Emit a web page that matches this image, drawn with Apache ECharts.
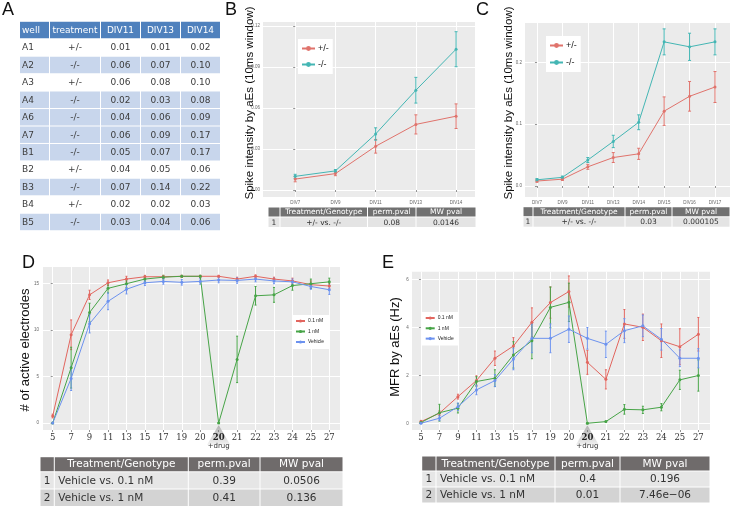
<!DOCTYPE html>
<html><head><meta charset="utf-8">
<script src="https://cdn.jsdelivr.net/npm/echarts@6/dist/echarts.min.js"></script>
<style>html,body{margin:0;padding:0;background:#fff}#c{width:732px;height:510px}</style>
</head><body><div id="c"></div>
<script>
// ---------- Panel A table ----------
const aHeader = ['well','treatment','DIV11','DIV13','DIV14'];
const aWells = ['A1','A2','A3','A4','A6','A7','B1','B2','B3','B4','B5'];
const aTreat = ['+/-','-/-','+/-','-/-','-/-','-/-','-/-','+/-','-/-','+/-','-/-'];
const aDiv11 = ['0.01','0.06','0.06','0.02','0.04','0.06','0.05','0.04','0.07','0.02','0.03'];
const aDiv13 = ['0.01','0.07','0.08','0.03','0.06','0.09','0.07','0.05','0.14','0.02','0.04'];
const aDiv14 = ['0.02','0.10','0.10','0.08','0.09','0.17','0.17','0.06','0.22','0.03','0.06'];

// ---------- Panel B ----------
const bLabels = ['DIV7','DIV9','DIV11','DIV13','DIV14'];
const bHet = [0.008, 0.012, 0.032, 0.048, 0.054];
const bHetErr = [0.002, 0.0015, 0.005, 0.007, 0.009];
const bKO = [0.010, 0.014, 0.041, 0.073, 0.103];
const bKOErr = [0.0015, 0.001, 0.0045, 0.0094, 0.0128];
const bYTicks = [0, 0.03, 0.06, 0.09, 0.12];

// ---------- Panel C ----------
const cLabels = ['DIV7','DIV9','DIV11','DIV13','DIV14','DIV15','DIV16','DIV17'];
const cHet = [0.008, 0.011, 0.031, 0.046, 0.052, 0.121, 0.145, 0.160];
const cHetErr = [0.002, 0.002, 0.004, 0.008, 0.009, 0.023, 0.024, 0.025];
const cKO = [0.010, 0.014, 0.042, 0.072, 0.103, 0.233, 0.225, 0.233];
const cKOErr = [0.002, 0.002, 0.004, 0.010, 0.012, 0.021, 0.022, 0.021];
const cYTicks = [0, 0.1, 0.2];

// ---------- Panel D ----------
const dLabels = ['5','7','9','11','13','15','17','19','20','20','21','22','23','24','25','27'];
const dLow = [0.75, 9.5, 13.8, 15.1, 15.5, 15.75, 15.75, 15.8, 15.8, 15.8, 15.5, 15.8, 15.5, 15.3, 14.9, 14.75];
const dLowErr = [0.2, 1.6, 0.5, 0.3, 0.3, 0.15, 0.15, 0.1, 0.1, 0.1, 0.2, 0.15, 0.2, 0.3, 0.4, 0.3];
const dHigh = [0, 5.96, 11.9, 14.5, 15.0, 15.5, 15.7, 15.8, 15.8, 0, 6.85, 13.7, 13.8, 14.8, 15.0, 15.2];
const dHighErr = [0, 2.2, 1.0, 0.5, 0.4, 0.3, 0.2, 0.1, 0.1, 0, 2.5, 1.0, 0.8, 0.5, 0.5, 0.4];
const dVeh = [0, 4.8, 10.7, 13.1, 14.4, 15.1, 15.25, 15.15, 15.25, 15.4, 15.35, 15.5, 15.3, 15.2, 14.7, 14.35];
const dVehErr = [0, 1.3, 1.0, 0.9, 0.5, 0.3, 0.3, 0.3, 0.3, 0.3, 0.3, 0.3, 0.3, 0.3, 0.3, 0.5];
const dYTicks = [0, 5, 10, 15];

// ---------- Panel E ----------
const eLabels = dLabels;
const eLow = [0.07, 0.42, 1.11, 1.78, 2.71, 3.22, 4.21, 5.03, 5.49, 2.54, 1.83, 4.14, 4.0, 3.44, 3.19, 3.71];
const eLowErr = [0.05, 0.1, 0.1, 0.2, 0.3, 0.35, 0.6, 0.65, 0.65, 0.5, 0.4, 0.6, 0.55, 0.7, 0.75, 0.7];
const eHigh = [0.03, 0.44, 0.63, 1.74, 1.88, 2.85, 3.44, 4.83, 5.04, 0, 0.07, 0.58, 0.56, 0.67, 1.81, 1.99];
const eHighErr = [0.02, 0.35, 0.2, 0.2, 0.35, 0.55, 0.75, 0.85, 0.8, 0.03, 0.02, 0.2, 0.15, 0.15, 0.4, 0.65];
const eVeh = [0, 0.21, 0.69, 1.39, 1.78, 2.68, 3.54, 3.54, 3.92, 3.54, 3.29, 3.86, 4.06, 3.5, 2.71, 2.71];
const eVehErr = [0.02, 0.1, 0.15, 0.2, 0.25, 0.45, 0.6, 0.6, 0.55, 0.45, 0.55, 0.5, 0.45, 0.45, 0.35, 0.4];
const eYTicks = [0, 2, 4, 6];

// ---------- stats tables ----------
const statHeader = ['', 'Treatment/Genotype', 'perm.pval', 'MW pval'];
const bStats = [['1', '+/- vs. -/-', '0.08', '0.0146']];
const cStats = [['1', '+/- vs. -/-', '0.03', '0.000105']];
const dStats = [['1', 'Vehicle vs. 0.1 nM', '0.39', '0.0506'], ['2', 'Vehicle vs. 1 nM', '0.41', '0.136']];
const eStats = [['1', 'Vehicle vs. 0.1 nM', '0.4', '0.196'], ['2', 'Vehicle vs. 1 nM', '0.01', '7.46e\u221206']];

const HET = '+/-', KO = '-/-';
const N01 = '0.1 nM', N1 = '1 nM', VEH = 'Vehicle';

// colours
const cRed2 = '#e0736c', cCyan = '#44b6b4';
const cRed = '#e2665f', cGreen = '#47a447', cBlue = '#6c92ef';
const BG = '#ebebeb';

// ---------- graphic helpers ----------
const G = []; let gid = 0;
function add(el) { el.id = 'g' + (gid++); el.silent = true; G.push(el); return el; }
function txt(x, y, t, o) {
  o = o || {};
  add({type: 'text', x, y, rotation: o.rot || 0, z: o.z == null ? 1 : o.z,
    style: {text: t, fill: o.color || '#222', fontSize: o.size || 9, fontFamily: o.font || 'DejaVu Sans',
      fontWeight: o.weight || 'normal', align: o.align || 'left', verticalAlign: o.va || 'middle'}});
}
function table(cols, rows, fills, cellRows, o) {
  for (let r = 0; r < cellRows.length; r++) {
    for (let c = 0; c < cols.length - 1; c++) {
      const x0 = cols[c], x1 = cols[c + 1], y0 = rows[r], y1 = rows[r + 1];
      const fill = fills[r];
      add({type: 'rect', z: 0, shape: {x: x0 + 0.5, y: y0 + 0.5, width: x1 - x0 - 1, height: y1 - y0 - 1}, style: {fill}});
      const t = cellRows[r][c];
      if (!t) continue;
      const al = (r === 0 ? o.headAligns : o.aligns)[c];
      const tx = al === 'left' ? x0 + o.pad : al === 'right' ? x1 - o.pad : (x0 + x1) / 2;
      txt(tx, (y0 + y1) / 2 + 0.5, t, {color: r === 0 ? o.headColor : o.color, size: o.size, font: o.font, align: al});
    }
  }
}

// Panel letters
txt(2, 10, 'A', {size: 18, font: 'Liberation Sans', color: '#111'});
txt(225, 10, 'B', {size: 18, font: 'Liberation Sans', color: '#111'});
txt(476, 10, 'C', {size: 18, font: 'Liberation Sans', color: '#111'});
txt(22, 263, 'D', {size: 18, font: 'Liberation Sans', color: '#111'});
txt(382, 263, 'E', {size: 18, font: 'Liberation Sans', color: '#111'});

// y-axis titles
const rot = Math.PI / 2;
txt(250, 103, 'Spike intensity by aEs (10ms window)', {rot, size: 11.5, font: 'Liberation Sans', align: 'center', color: '#111'});
txt(509, 103, 'Spike intensity by aEs (10ms window)', {rot, size: 11.5, font: 'Liberation Sans', align: 'center', color: '#111'});
txt(25, 350, '# of active electrodes', {rot, size: 13, font: 'Liberation Sans', align: 'center', color: '#111'});
txt(395, 347, 'MFR by aEs (Hz)', {rot, size: 13, font: 'Liberation Sans', align: 'center', color: '#111'});

// Table A
(function () {
  const rows = []; for (let k = 0; k <= aWells.length + 1; k++) rows.push(21.3 + 17.45 * k);
  const cells = [aHeader].concat(aWells.map((w, i) => [w, aTreat[i], aDiv11[i], aDiv13[i], aDiv14[i]]));
  const fills = ['#4f81bd'].concat(aTreat.map(t => t === '-/-' ? '#c8d6ec' : '#ffffff'));
  table([19.5, 49.5, 100.5, 140.5, 180.5, 220.5], rows, fills, cells,
    {aligns: ['left', 'center', 'center', 'center', 'center'], headAligns: ['left', 'center', 'center', 'center', 'center'],
     pad: 2.5, size: 9, font: 'DejaVu Sans', color: '#3c3c3c', headColor: '#ffffff'});
})();
const statOpt = (size) => ({aligns: ['center', 'center', 'center', 'center'], headAligns: ['center', 'center', 'center', 'center'],
  pad: 4, size, font: 'DejaVu Sans', color: '#333', headColor: '#ffffff'});
table([268, 280, 367.5, 416, 476], [207, 217, 227.5], ['#717171', '#e4e4e4'], [statHeader].concat(bStats), statOpt(7.5));
table([523, 533, 625, 672, 730], [206.7, 216.7, 227.2], ['#717171', '#e4e4e4'], [statHeader].concat(cStats), statOpt(7.5));
const statOpt2 = Object.assign(statOpt(10.5), {aligns: ['center', 'left', 'center', 'center']});
table([40, 54.3, 188.3, 260, 343], [456.7, 471.7, 489, 506.5], ['#6f6b6b', '#e6e6e6', '#d3d3d3'], [statHeader].concat(dStats), statOpt2);
table([421.7, 436, 555, 620, 710], [456, 471, 487, 503], ['#6f6b6b', '#e6e6e6', '#d3d3d3'], [statHeader].concat(eStats), statOpt2);

// ---------- axes helpers ----------
const near = (v, step) => Math.abs(v / step - Math.round(v / step)) < 1e-6;
const idxs = n => Array.from({length: n}, (_, i) => i);
function yAx(grid, min, max, step, ticks, dec) {
  return {gridIndex: grid, type: 'value', min, max, minInterval: step, maxInterval: step,
    axisLine: {show: false},
    axisTick: {show: true, length: 2, lineStyle: {color: '#777', width: 0.8}, customValues: ticks},
    axisLabel: {fontSize: 4.5, color: '#666', margin: 3, fontFamily: 'Liberation Sans',
      formatter: v => near(v, step) ? v.toFixed(dec) : ''},
    splitLine: {show: true, lineStyle: {color: '#ffffff', width: 1}}};
}
function xAxSmall(grid, min, max, labels) {
  return {gridIndex: grid, type: 'value', min, max, minInterval: 1, maxInterval: 1,
    axisLine: {show: false},
    axisTick: {show: true, length: 2, lineStyle: {color: '#777', width: 0.8}, customValues: idxs(labels.length)},
    axisLabel: {fontSize: 4.5, color: '#666', margin: 3, fontFamily: 'Liberation Sans',
      formatter: v => (near(v, 1) && v >= 0 && v < labels.length) ? labels[Math.round(v)] : ''},
    splitLine: {show: true, lineStyle: {color: '#ffffff', width: 1}}};
}
function xAxGrid(grid, min, max) {
  return {gridIndex: grid, type: 'value', min, max, minInterval: 1, maxInterval: 1,
    axisLine: {show: false}, axisTick: {show: false}, axisLabel: {show: false},
    splitLine: {show: true, lineStyle: {color: '#ffffff', width: 1}}};
}
function xAxLabels(grid, min, max, labels) {
  return {gridIndex: grid, type: 'value', min, max, minInterval: 1, maxInterval: 1, position: 'bottom', z: 5,
    axisLine: {show: false}, splitLine: {show: false},
    axisTick: {show: true, length: 2, lineStyle: {color: '#777', width: 0.8}, customValues: idxs(labels.length)},
    axisLabel: {fontSize: 8.5, color: '#333', margin: 3, fontFamily: 'DejaVu Serif',
      formatter: v => {
        if (!near(v, 1) || v < 0 || v >= labels.length) return '';
        const i = Math.round(v);
        return i === 9 ? '{b|' + labels[i] + '}\n{d|+drug}' : labels[i];
      },
      rich: {b: {fontSize: 8.5, fontWeight: 'bold', fontFamily: 'DejaVu Serif', color: '#222'},
             d: {fontSize: 7, fontFamily: 'DejaVu Sans', color: '#333', padding: [1, 0, 0, 0]}}}};
}

function lineS(name, xi, yi, vals, color) {
  return {type: 'line', name, xAxisIndex: xi, yAxisIndex: yi, data: vals.map((v, i) => [i, v]),
    symbol: 'circle', symbolSize: 3, showSymbol: true, clip: false, z: 3, silent: true,
    lineStyle: {color, width: 1}, itemStyle: {color}};
}
function errS(name, xi, yi, vals, errs, color, cap) {
  return {type: 'custom', name: name + ' err', xAxisIndex: xi, yAxisIndex: yi, clip: false, z: 3, silent: true,
    dimensions: ['x', 'lo', 'hi'], encode: {x: 0, y: [1, 2]},
    data: vals.map((v, i) => [i, v - errs[i], v + errs[i]]),
    renderItem: (params, api) => {
      const lo = api.coord([api.value(0), api.value(1)]);
      const hi = api.coord([api.value(0), api.value(2)]);
      const st = {stroke: color, lineWidth: 1};
      return {type: 'group', children: [
        {type: 'line', shape: {x1: lo[0], y1: lo[1], x2: hi[0], y2: hi[1]}, style: st},
        {type: 'line', shape: {x1: lo[0] - cap, y1: lo[1], x2: lo[0] + cap, y2: lo[1]}, style: st},
        {type: 'line', shape: {x1: hi[0] - cap, y1: hi[1], x2: hi[0] + cap, y2: hi[1]}, style: st}]};
    }};
}
function legend(left, top, names, o) {
  return {left, top, orient: 'vertical', data: names, selectedMode: false, backgroundColor: '#ffffff',
    itemWidth: o.iw, itemHeight: o.ih, itemGap: o.gap, padding: o.pad, borderWidth: 0,
    textStyle: {fontSize: o.fs, color: '#222', fontFamily: 'Liberation Sans', padding: [0, 0, 0, -2]}};
}

const gridBase = {show: true, backgroundColor: BG, borderWidth: 0, containLabel: false, outerBoundsMode: 'none'};
const option = {
  animation: false,
  backgroundColor: '#ffffff',
  grid: [
    Object.assign({left: 263, top: 22, width: 212, height: 175}, gridBase),
    Object.assign({left: 525, top: 23, width: 205, height: 174}, gridBase),
    Object.assign({left: 42, top: 267, width: 298, height: 163}, gridBase),
    Object.assign({left: 411.7, top: 271.7, width: 298.3, height: 158.3}, gridBase)
  ],
  xAxis: [
    xAxSmall(0, -0.8, 4.47, bLabels),
    xAxSmall(1, -0.47, 7.59, cLabels),
    xAxGrid(2, -0.58, 15.58),
    xAxLabels(2, -0.58, 15.58, dLabels),
    xAxGrid(3, -0.5, 15.63),
    xAxLabels(3, -0.5, 15.63, eLabels)
  ],
  yAxis: [
    yAx(0, -0.0051, 0.1229, 0.03, bYTicks, 2),
    yAx(1, -0.0178, 0.2635, 0.1, cYTicks, 1),
    yAx(2, -0.754, 16.8, 5, dYTicks, 0),
    yAx(3, -0.28, 6.317, 2, eYTicks, 0)
  ],
  legend: [
    legend(298, 39, [HET, KO], {iw: 13, ih: 6, gap: 7, pad: [5, 4, 5, 3], fs: 9}),
    legend(546, 36, [HET, KO], {iw: 13, ih: 6, gap: 8, pad: [5, 4, 5, 3], fs: 9}),
    legend(292, 315, [N01, N1, VEH], {iw: 9, ih: 4, gap: 5.5, pad: [3.5, 5, 4.5, 3], fs: 5}),
    legend(421.7, 312, [N01, N1, VEH], {iw: 9, ih: 4, gap: 5.3, pad: [3.5, 5, 4.5, 3], fs: 5})
  ],
  graphic: {elements: G},
  series: [
    lineS(HET, 0, 0, bHet, cRed2), errS(HET, 0, 0, bHet, bHetErr, cRed2, 1.5),
    lineS(KO, 0, 0, bKO, cCyan), errS(KO, 0, 0, bKO, bKOErr, cCyan, 1.5),
    lineS(HET + ' ', 1, 1, cHet, cRed2), errS(HET, 1, 1, cHet, cHetErr, cRed2, 1.5),
    lineS(KO + ' ', 1, 1, cKO, cCyan), errS(KO, 1, 1, cKO, cKOErr, cCyan, 1.5),
    lineS(N01, 2, 2, dLow, cRed), errS(N01, 2, 2, dLow, dLowErr, cRed, 1),
    lineS(N1, 2, 2, dHigh, cGreen), errS(N1, 2, 2, dHigh, dHighErr, cGreen, 1),
    lineS(VEH, 2, 2, dVeh, cBlue), errS(VEH, 2, 2, dVeh, dVehErr, cBlue, 1),
    lineS(N01 + ' ', 4, 3, eLow, cRed), errS(N01, 4, 3, eLow, eLowErr, cRed, 1),
    lineS(N1 + ' ', 4, 3, eHigh, cGreen), errS(N1, 4, 3, eHigh, eHighErr, cGreen, 1),
    lineS(VEH + ' ', 4, 3, eVeh, cBlue), errS(VEH, 4, 3, eVeh, eVehErr, cBlue, 1)
  ]
};

const chart = echarts.init(document.getElementById('c'), null, {renderer: 'canvas', width: 732, height: 510});
chart.setOption(option);

// "+drug" triangles under the second "20" tick, positioned through the axes' scales
const triGrad = {type: 'linear', x: 0, y: 0, x2: 0, y2: 1,
  colorStops: [{offset: 0, color: '#b0b0b0'}, {offset: 1, color: '#f2f2f2'}]};
const p1 = chart.convertToPixel({xAxisIndex: 2, yAxisIndex: 2}, [9, 0]);
const p2 = chart.convertToPixel({xAxisIndex: 4, yAxisIndex: 3}, [9, 0]);
function tri(id, p) {
  return {id, type: 'polygon', silent: true, z: 1,
    shape: {points: [[p[0], p[1] + 2], [p[0] - 11.7, p[1] + 22], [p[0] + 11.7, p[1] + 22]]},
    style: {fill: triGrad}};
}
chart.setOption({graphic: {elements: [tri('triD', p1), tri('triE', p2)]}});
</script></body></html>
